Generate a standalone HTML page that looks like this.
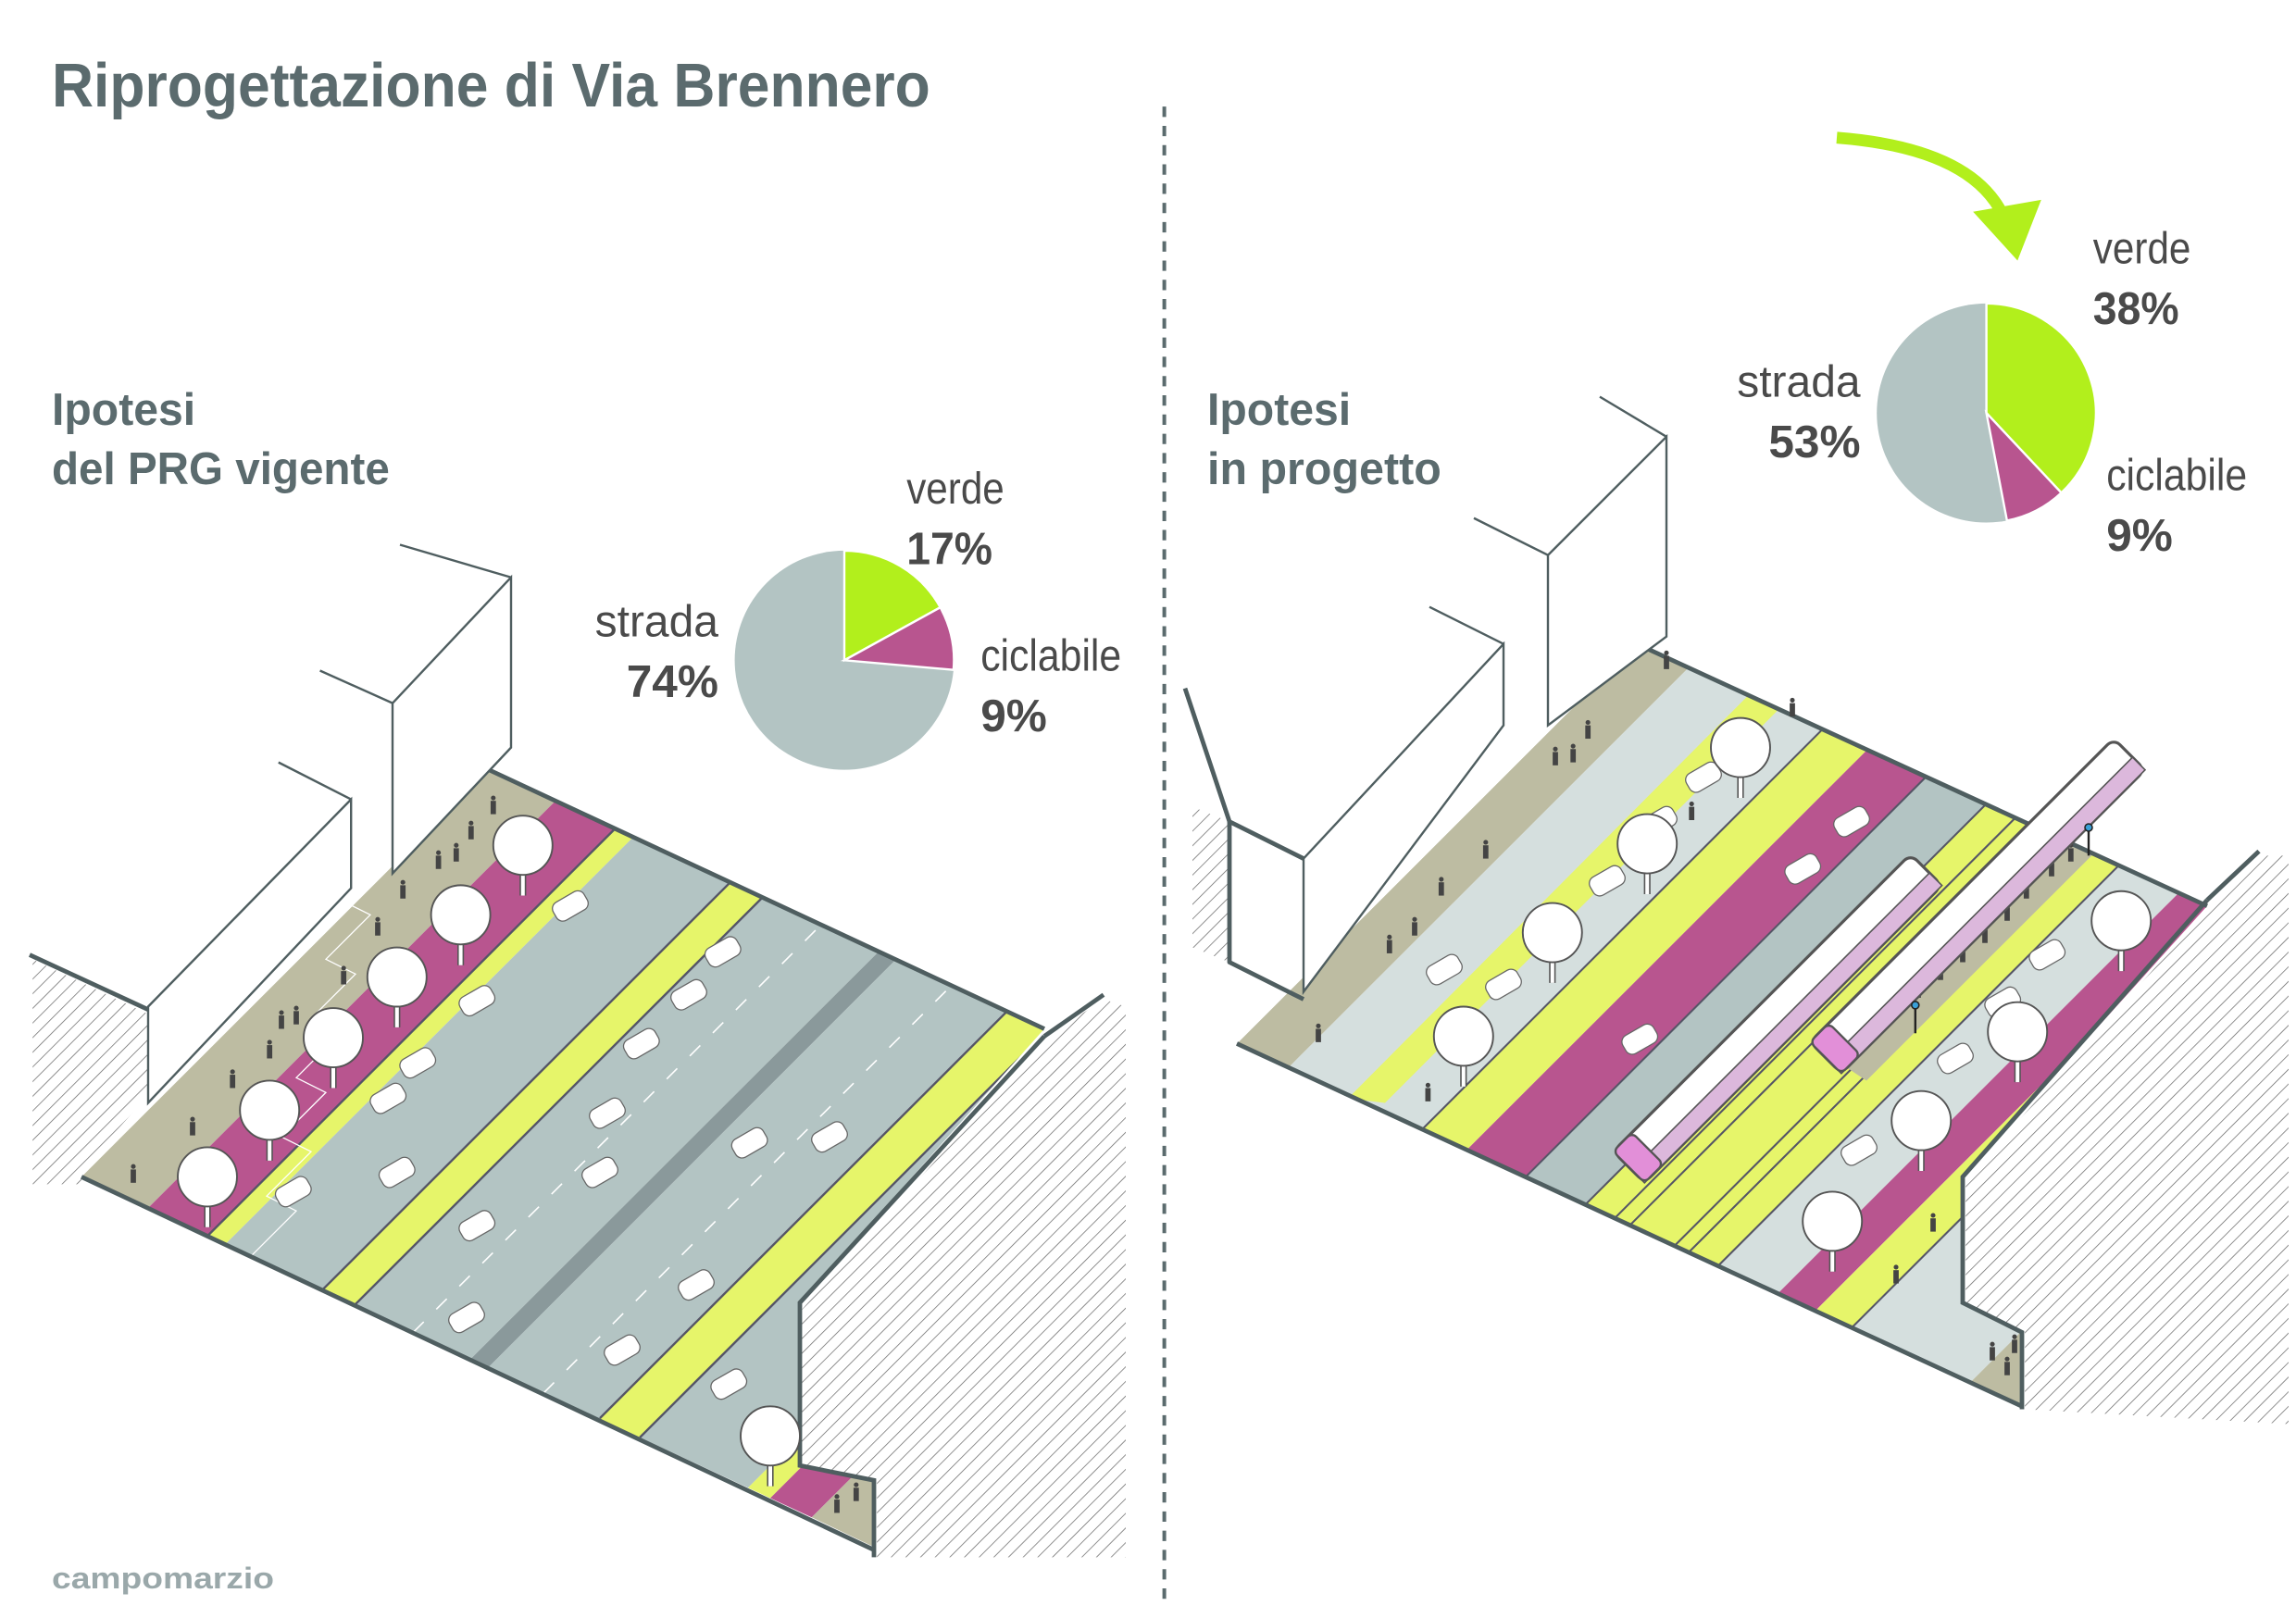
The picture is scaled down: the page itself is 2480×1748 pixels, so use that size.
<!DOCTYPE html>
<html><head><meta charset="utf-8"><style>
html,body{margin:0;padding:0;background:#fff;}
svg{display:block;}
.n{font-family:"Liberation Sans Narrow","Liberation Sans",sans-serif;}
</style></head><body>
<svg width="2480" height="1748" viewBox="0 0 1550 1093" preserveAspectRatio="none" xmlns="http://www.w3.org/2000/svg">
<defs>
<pattern id="h" width="7" height="7" patternUnits="userSpaceOnUse" patternTransform="rotate(45)">
<rect width="7" height="7" fill="#fff"/><line x1="0" y1="0" x2="0" y2="7" stroke="#666" stroke-width="0.9"/></pattern>
<clipPath id="cl"><polygon points="55,795 330,520 705,695 540,880 540,990 590,1000 590,1045"/></clipPath>
<clipPath id="cr"><polygon points="835,705 1105,435 1490,612 1325,795 1325,880 1365,900 1365,950"/></clipPath>
<g id="tree"><line x1="0" y1="5" x2="0" y2="34" stroke="#555" stroke-width="4.5"/><line x1="0" y1="5" x2="0" y2="34" stroke="#fff" stroke-width="2.5"/><circle r="20" fill="#fff" stroke="#555" stroke-width="1.2"/></g>
<g id="car"><rect x="-12" y="-7" width="24" height="14" rx="5" fill="#fff" stroke="#666" stroke-width="0.8" transform="rotate(-30)"/></g>
<g id="p"><circle cy="-9" r="1.6" fill="#444"/><rect x="-1.8" y="-7" width="3.6" height="9" fill="#444"/></g>
</defs>
<rect width="1550" height="1093" fill="#fff"/>

<text x="35" y="72" class="n" font-size="42" font-weight="bold" fill="#5b6b6e" textLength="593" lengthAdjust="spacingAndGlyphs">Riprogettazione di Via Brennero</text>
<line x1="786" y1="72" x2="786" y2="1080" stroke="#5b6b6e" stroke-width="2.5" stroke-dasharray="7 6"/>

<text x="35" y="287" class="n" font-size="31" font-weight="bold" fill="#5b6b6e" textLength="97" lengthAdjust="spacingAndGlyphs">Ipotesi</text>
<text x="35" y="327" class="n" font-size="31" font-weight="bold" fill="#5b6b6e" textLength="228" lengthAdjust="spacingAndGlyphs">del PRG vigente</text>
<text x="815" y="287" class="n" font-size="31" font-weight="bold" fill="#5b6b6e" textLength="97" lengthAdjust="spacingAndGlyphs">Ipotesi</text>
<text x="815" y="327" class="n" font-size="31" font-weight="bold" fill="#5b6b6e" textLength="158" lengthAdjust="spacingAndGlyphs">in progetto</text>
<text x="35" y="1073" class="n" font-size="20" font-weight="bold" fill="#9aa8aa" textLength="150" lengthAdjust="spacingAndGlyphs">campomarzio</text>

<circle cx="570" cy="446" r="74" fill="#b3c4c3"/>
<path d="M570,446 L570,372 A74,74 0 0 1 634.8,410.3 Z" fill="#b2ef1c" stroke="#fff" stroke-width="1.5"/>
<path d="M570,446 L634.8,410.3 A74,74 0 0 1 643.7,452.5 Z" fill="#b8558f" stroke="#fff" stroke-width="1.5"/>
<g class="n" fill="#4a4a4a">
<text x="612" y="340" font-size="30" textLength="66" lengthAdjust="spacingAndGlyphs">verde</text>
<text x="612" y="381" font-size="31" font-weight="bold" textLength="58" lengthAdjust="spacingAndGlyphs">17%</text>
<text x="485" y="430" font-size="30" text-anchor="end">strada</text>
<text x="485" y="471" font-size="31" font-weight="bold" text-anchor="end">74%</text>
<text x="662" y="453" font-size="30" textLength="95" lengthAdjust="spacingAndGlyphs">ciclabile</text>
<text x="662" y="494" font-size="31" font-weight="bold">9%</text>
</g>
<circle cx="1341" cy="279" r="74" fill="#b3c4c3"/>
<path d="M1341,279 L1341,205 A74,74 0 0 1 1391.6,332.9 Z" fill="#b2ef1c" stroke="#fff" stroke-width="1.5"/>
<path d="M1341,279 L1391.6,332.9 A74,74 0 0 1 1354.9,351.7 Z" fill="#b8558f" stroke="#fff" stroke-width="1.5"/>
<g class="n" fill="#4a4a4a">
<text x="1413" y="178" font-size="30" textLength="66" lengthAdjust="spacingAndGlyphs">verde</text>
<text x="1413" y="219" font-size="31" font-weight="bold" textLength="58" lengthAdjust="spacingAndGlyphs">38%</text>
<text x="1256" y="268" font-size="30" text-anchor="end">strada</text>
<text x="1256" y="309" font-size="31" font-weight="bold" text-anchor="end">53%</text>
<text x="1422" y="331" font-size="30" textLength="95" lengthAdjust="spacingAndGlyphs">ciclabile</text>
<text x="1422" y="372" font-size="31" font-weight="bold">9%</text>
</g>
<path d="M1240,93 Q1330,100 1352,145" fill="none" stroke="#b2ef1c" stroke-width="8"/>
<polygon points="1332,143 1378,135 1362,176" fill="#b2ef1c"/>

<!-- LEFT SCENE -->
<polygon points="22,648 100,685 100,740 55,790 55,800 22,800" fill="url(#h)"/>
<g clip-path="url(#cl)">
<polygon points="55,795 100,816 375,541 330,520" fill="#bdbca2"/>
<polygon points="100,816 140,835 415,560 375,541" fill="#b8558f"/>
<polygon points="140,835 152,840.6 427,566 415,560" fill="#e6f56a"/>
<polygon points="152,840.6 218,871 493,596 427,566" fill="#b3c4c3"/>
<polygon points="218,871 240,881.4 515,606 493,596" fill="#e6f56a"/>
<polygon points="240,881.4 318,917.8 593,643 515,606" fill="#b3c4c3"/>
<polygon points="318,917.8 330,923.4 605,648 593,643" fill="#8a999b"/>
<polygon points="330,923.4 405,958.5 680,683 605,648" fill="#b3c4c3"/>
<polygon points="405,958.5 432,971 707,696 680,683" fill="#e6f56a"/>
<polygon points="432,971 505,1005 780,730 707,696" fill="#b3c4c3"/>
<polygon points="505,1005 520,1012 795,737 780,730" fill="#e6f56a"/>
<polygon points="520,1012 548,1025 823,750 795,737" fill="#b8558f"/>
<polygon points="548,1025 590,1045 865,770 823,750" fill="#bdbca2"/>
<g stroke="#556" stroke-width="1.5" fill="none">
<line x1="140" y1="835" x2="415" y2="560"/><line x1="218" y1="871" x2="493" y2="596"/><line x1="240" y1="881" x2="515" y2="606"/>
<line x1="405" y1="958" x2="680" y2="683"/><line x1="432" y1="971" x2="707" y2="696"/>
</g>
<g stroke="#fff" stroke-width="1" stroke-dasharray="10 12"><line x1="279" y1="900" x2="554" y2="625"/><line x1="367" y1="941" x2="642" y2="666"/></g>
<g stroke="#fff" stroke-width="0.8" fill="none"><path d="M170,848 L200,818 L180,808 L210,778 L190,768 L220,738 L200,728 L230,698 L210,688 L240,658 L220,648 L250,618 L230,608 L260,578 L240,568"/></g>
</g>
<g stroke="#4f5e60" stroke-width="3" fill="none" stroke-linejoin="round">
<polyline points="55,795 590,1047"/>
<line x1="330" y1="520" x2="705" y2="695"/>
</g>
<polygon points="541,885 705,702 745,675 760,680 760,1052 592,1052 592,1000 541,990" fill="url(#h)"/>
<g stroke="#4f5e60" stroke-width="3" fill="none"><polyline points="705,700 540,880 540,990 590,1000 590,1052"/><line x1="705" y1="700" x2="745" y2="672"/></g>
<polygon points="265,475 345,390 345,505 265,590" fill="#fff" stroke="#4f5e60" stroke-width="1.5"/>
<line x1="270" y1="368" x2="345" y2="390" stroke="#4f5e60" stroke-width="1.5"/>
<line x1="216" y1="453" x2="265" y2="475" stroke="#4f5e60" stroke-width="1.5"/>
<polygon points="100,680 237,540 237,600 100,745" fill="#fff" stroke="#4f5e60" stroke-width="1.5"/>
<line x1="188" y1="515" x2="237" y2="540" stroke="#4f5e60" stroke-width="1.5"/>
<line x1="20" y1="645" x2="100" y2="682" stroke="#4f5e60" stroke-width="3"/>
<g>
<use href="#p" x="90" y="797"/><use href="#p" x="130" y="765"/><use href="#p" x="157" y="733"/><use href="#p" x="182" y="713"/><use href="#p" x="190" y="693"/><use href="#p" x="200" y="690"/><use href="#p" x="232" y="663"/><use href="#p" x="255" y="630"/><use href="#p" x="272" y="605"/><use href="#p" x="296" y="585"/><use href="#p" x="308" y="580"/><use href="#p" x="318" y="565"/><use href="#p" x="333" y="548"/><use href="#p" x="565" y="1020"/><use href="#p" x="578" y="1012"/>
</g>
<g>
<use href="#car" x="198" y="805"/><use href="#car" x="262" y="742"/><use href="#car" x="282" y="718"/><use href="#car" x="322" y="676"/><use href="#car" x="385" y="612"/><use href="#car" x="268" y="792"/><use href="#car" x="322" y="828"/><use href="#car" x="315" y="890"/><use href="#car" x="405" y="792"/><use href="#car" x="433" y="705"/><use href="#car" x="465" y="672"/><use href="#car" x="488" y="643"/><use href="#car" x="470" y="868"/><use href="#car" x="420" y="912"/><use href="#car" x="492" y="935"/><use href="#car" x="506" y="772"/><use href="#car" x="560" y="768"/><use href="#car" x="410" y="752"/>
</g>
<g>
<use href="#tree" x="140" y="795"/><use href="#tree" x="182" y="750"/><use href="#tree" x="225" y="701"/><use href="#tree" x="268" y="660"/><use href="#tree" x="311" y="618"/><use href="#tree" x="353" y="571"/><use href="#tree" x="520" y="970"/>
</g>

<!-- RIGHT SCENE -->
<polygon points="805,545 830,555 830,650 805,640" fill="url(#h)"/>
<g clip-path="url(#cr)">
<polygon points="835,705 870,721 1140,451 1105,435" fill="#bdbca2"/>
<polygon points="870,721 960,763 1230,493 1140,451" fill="#d5dfde"/>
<polygon points="960,763 990,777 1260,507 1230,493" fill="#e6f56a"/>
<polygon points="990,777 1030,795 1300,525 1260,507" fill="#b8558f"/>
<polygon points="1030,795 1070,814 1340,544 1300,525" fill="#b3c4c3"/>
<polygon points="1070,814 1160,855 1430,585 1340,544" fill="#e6f56a"/>
<polygon points="1160,855 1200,874 1470,604 1430,585" fill="#d5dfde"/>
<polygon points="1200,874 1225,886 1495,616 1470,604" fill="#b8558f"/>
<polygon points="1225,886 1250,897 1520,627 1495,616" fill="#e6f56a"/>
<polygon points="1250,897 1330,934 1600,664 1520,627" fill="#d5dfde"/>
<polygon points="1330,934 1365,950 1635,680 1600,664" fill="#bdbca2"/>
<polygon points="910,742 935,745 1200,480 1180,470" fill="#e6f56a"/>
<g stroke="#556" stroke-width="1.3" fill="none">
<line x1="960" y1="763" x2="1230" y2="493"/><line x1="1030" y1="795" x2="1300" y2="525"/><line x1="1070" y1="814" x2="1340" y2="544"/><line x1="1160" y1="855" x2="1430" y2="585"/><line x1="1250" y1="897" x2="1520" y2="627"/>
<line x1="1090" y1="823" x2="1360" y2="553"/><line x1="1100" y1="828" x2="1370" y2="558"/><line x1="1130" y1="842" x2="1400" y2="572"/><line x1="1140" y1="846" x2="1410" y2="576"/>
</g>
<polygon points="1230,710 1255,690 1420,545 1415,575 1300,690 1260,730" fill="#bdbca2"/>
</g>
<g stroke="#4f5e60" stroke-width="3" fill="none" stroke-linejoin="round">
<polyline points="835,705 1365,950"/>
<line x1="1105" y1="435" x2="1490" y2="612"/>
<polyline points="800,465 830,555 880,580"/><polyline points="830,555 830,650 880,675"/>
</g>
<polygon points="1327,797 1492,612 1526,578 1545,578 1545,962 1367,952 1367,900 1327,882" fill="url(#h)"/>
<g stroke="#4f5e60" stroke-width="3" fill="none"><polyline points="1490,608 1325,795 1325,880 1365,900 1365,952"/><line x1="1490" y1="608" x2="1525" y2="575"/></g>
<polygon points="1045,375 1125,295 1125,430 1045,490" fill="#fff" stroke="#4f5e60" stroke-width="1.5"/>
<line x1="1080" y1="268" x2="1125" y2="295" stroke="#4f5e60" stroke-width="1.5"/>
<line x1="995" y1="350" x2="1045" y2="375" stroke="#4f5e60" stroke-width="1.5"/>
<polygon points="880,580 1015,435 1015,490 880,670" fill="#fff" stroke="#4f5e60" stroke-width="1.5"/>
<line x1="965" y1="410" x2="1015" y2="435" stroke="#4f5e60" stroke-width="1.5"/>
<g>
<use href="#p" x="890" y="702"/><use href="#p" x="938" y="642"/><use href="#p" x="955" y="630"/><use href="#p" x="973" y="603"/><use href="#p" x="1003" y="578"/><use href="#p" x="1050" y="515"/><use href="#p" x="1062" y="513"/><use href="#p" x="1072" y="497"/><use href="#p" x="1125" y="450"/><use href="#p" x="1210" y="482"/><use href="#p" x="1142" y="552"/><use href="#p" x="964" y="742"/>
<use href="#p" x="1295" y="672"/><use href="#p" x="1310" y="660"/><use href="#p" x="1325" y="648"/><use href="#p" x="1340" y="635"/><use href="#p" x="1355" y="620"/><use href="#p" x="1368" y="605"/><use href="#p" x="1385" y="590"/><use href="#p" x="1398" y="580"/>
<use href="#p" x="1305" y="830"/><use href="#p" x="1280" y="865"/><use href="#p" x="1345" y="917"/><use href="#p" x="1355" y="927"/><use href="#p" x="1360" y="912"/>
</g>
<g>
<use href="#car" x="975" y="655"/><use href="#car" x="1015" y="665"/><use href="#car" x="1045" y="625"/><use href="#car" x="1085" y="595"/><use href="#car" x="1120" y="555"/><use href="#car" x="1150" y="525"/><use href="#car" x="1217" y="587"/><use href="#car" x="1250" y="555"/><use href="#car" x="1107" y="702"/><use href="#car" x="1255" y="777"/><use href="#car" x="1320" y="715"/><use href="#car" x="1352" y="677"/><use href="#car" x="1382" y="645"/>
</g>
<g>
<use href="#tree" x="988" y="700"/><use href="#tree" x="1048" y="630"/><use href="#tree" x="1112" y="570"/><use href="#tree" x="1175" y="505"/><use href="#tree" x="1237" y="825"/><use href="#tree" x="1297" y="757"/><use href="#tree" x="1362" y="697"/><use href="#tree" x="1432" y="622"/>
</g>
<g transform="translate(1200,688) rotate(-45)">
<rect x="-142" y="-15" width="284" height="30" rx="6" fill="#fff" stroke="#555" stroke-width="2"/>
<rect x="-142" y="3" width="284" height="12" fill="#dcb8dc" stroke="#555" stroke-width="1"/>
<rect x="-142" y="-15" width="18" height="30" rx="4" fill="#e28fd8" stroke="#555" stroke-width="1.5"/>
</g>
<g transform="translate(1335,612) rotate(-45)">
<rect x="-145" y="-15" width="290" height="30" rx="6" fill="#fff" stroke="#555" stroke-width="2"/>
<rect x="-145" y="3" width="290" height="12" fill="#dcb8dc" stroke="#555" stroke-width="1"/>
<rect x="-145" y="-15" width="18" height="30" rx="4" fill="#e28fd8" stroke="#555" stroke-width="1.5"/>
</g>
<line x1="1293" y1="680" x2="1293" y2="698" stroke="#222" stroke-width="1.5"/><circle cx="1293" cy="679" r="2.5" fill="#3aa0d8" stroke="#222"/>
<line x1="1410" y1="560" x2="1410" y2="578" stroke="#222" stroke-width="1.5"/><circle cx="1410" cy="559" r="2.5" fill="#3aa0d8" stroke="#222"/>
</svg>
</body></html>
